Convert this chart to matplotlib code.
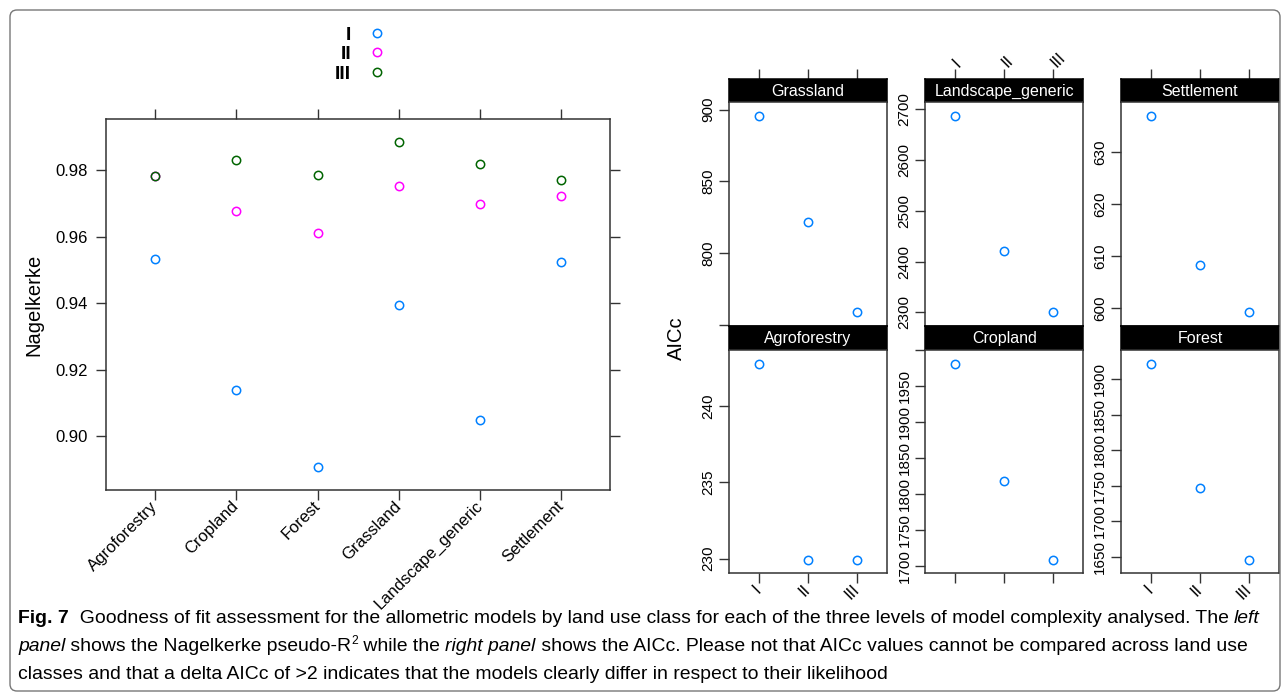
import matplotlib
matplotlib.use("Agg")
import matplotlib.pyplot as plt
from matplotlib.patches import FancyBboxPatch
from matplotlib.transforms import IdentityTransform

plt.rcParams['font.family'] = ['Liberation Sans', 'DejaVu Sans']

# ---- data ----
categories = ["Agroforestry", "Cropland", "Forest", "Grassland", "Landscape_generic", "Settlement"]
levels = ["I", "II", "III"]
level_colors = ["#0080ff", "#ff00ff", "#006400"]

nagel_I = [0.9533, 0.9138, 0.8907, 0.9395, 0.9048, 0.9523]
nagel_II = [0.9781, 0.9677, 0.9612, 0.9752, 0.9697, 0.9722]
nagel_III = [0.9783, 0.9829, 0.9785, 0.9885, 0.9819, 0.9769]
nagel_ticks = [0.90, 0.92, 0.94, 0.96, 0.98]

aicc_grassland = [895.6, 821.7, 758.9]
aicc_landscape = [2685.7, 2421.6, 2301.0]
aicc_settlement = [637.0, 608.4, 599.3]
aicc_agroforestry = [242.79, 229.93, 229.93]
aicc_cropland = [1981.4, 1818.4, 1708.7]
aicc_forest = [1922.0, 1746.8, 1645.8]

ticks_grassland = [750, 800, 850, 900]
labels_grassland = ["", "800", "850", "900"]
ticks_landscape = [2300, 2400, 2500, 2600, 2700]
labels_landscape = ["2300", "2400", "2500", "2600", "2700"]
ticks_settlement = [600, 610, 620, 630]
labels_settlement = ["600", "610", "620", "630"]
ticks_agroforestry = [230, 235, 240]
labels_agroforestry = ["230", "235", "240"]
ticks_cropland = [1700, 1750, 1800, 1850, 1900, 1950, 2000]
labels_cropland = ["1700", "1750", "1800", "1850", "1900", "1950", ""]
ticks_forest = [1650, 1700, 1750, 1800, 1850, 1900]
labels_forest = ["1650", "1700", "1750", "1800", "1850", "1900"]

W, H = 1285, 697
AX_COL = "#333333"


def px_box(x0, y0, x1, y1):
    return [x0 / W, 1 - y1 / H, (x1 - x0) / W, (y1 - y0) / H]


def padded(vals, frac=0.07):
    lo, hi = min(vals), max(vals)
    d = (hi - lo) * frac
    return lo - d, hi + d


def style_spines(ax, col=AX_COL, lw=1.1):
    for sp in ax.spines.values():
        sp.set_color(col)
        sp.set_linewidth(lw)


fig = plt.figure(figsize=(W / 100, H / 100), dpi=100)

# outer frame
frame = FancyBboxPatch((10, H - 691), 1270, 681, boxstyle="round,pad=0,rounding_size=7",
                       transform=IdentityTransform(), fill=False, ec="#777777", lw=1.0)
fig.add_artist(frame)

# ---- left panel: Nagelkerke ----
ax = fig.add_axes(px_box(106.3, 119, 610, 490))
xs = list(range(1, len(categories) + 1))
handles = []
for vals, col, lab in zip([nagel_I, nagel_II, nagel_III], level_colors, levels):
    h, = ax.plot(xs, vals, "o", ls="none", mfc="none", mec=col, ms=6, mew=1.1, label=lab)
    handles.append(h)
ax.set_xlim(0.4, len(categories) + 0.6)
ax.set_ylim(*padded(nagel_I + nagel_II + nagel_III))
ax.set_xticks(xs)
ax.set_xticklabels(categories, rotation=45, ha="right", va="center", rotation_mode="anchor")
ax.set_yticks(nagel_ticks)
ax.set_yticklabels([f"{t:.2f}" for t in nagel_ticks])
ax.tick_params(direction="out", length=7, width=1, top=True, right=True,
               labelsize=12, color=AX_COL)
ax.tick_params(axis="x", pad=3)
ax.tick_params(axis="y", pad=6)
style_spines(ax)
fig.text(34 / W, 1 - 305 / H, "Nagelkerke", rotation=90, fontsize=14.5, ha="center", va="center")

leg = fig.legend(handles, levels, loc="upper left", bbox_to_anchor=(335 / W, 1 - 26 / H),
                 markerfirst=False, frameon=False, fontsize=14, labelspacing=0.1,
                 handlelength=1.0, handletextpad=0.85, borderpad=0, borderaxespad=0)
for t in leg.get_texts():
    t.set_fontweight("bold")

# ---- right panels: AICc ----
col_x = [(729.3, 886.7), (925.4, 1083.0), (1121.1, 1279.0)]
row_y = [(79.0, 102.3, 325.7), (325.7, 350.0, 573.3)]

panels = [
    ("Grassland", aicc_grassland, ticks_grassland, labels_grassland, 0, 0),
    ("Landscape_generic", aicc_landscape, ticks_landscape, labels_landscape, 0, 1),
    ("Settlement", aicc_settlement, ticks_settlement, labels_settlement, 0, 2),
    ("Agroforestry", aicc_agroforestry, ticks_agroforestry, labels_agroforestry, 1, 0),
    ("Cropland", aicc_cropland, ticks_cropland, labels_cropland, 1, 1),
    ("Forest", aicc_forest, ticks_forest, labels_forest, 1, 2),
]

lx = [1, 2, 3]
for name, vals, yt, yl, r, c in panels:
    x0, x1 = col_x[c]
    s0, s1, p1 = row_y[r]

    # strip
    sax = fig.add_axes(px_box(x0, s0, x1, s1))
    sax.set_facecolor("black")
    sax.set_xlim(0.4, 3.6)
    sax.set_yticks([])
    sax.text(0.5, 0.47, name, color="white", ha="center", va="center", fontsize=11.5,
             transform=sax.transAxes)
    style_spines(sax, col="black")
    if r == 0:
        sax.xaxis.tick_top()
        sax.set_xticks(lx)
        if c == 1:
            sax.set_xticklabels(levels, rotation=45, ha="left", va="center",
                                rotation_mode="anchor")
        else:
            sax.set_xticklabels([])
        sax.tick_params(axis="x", direction="out", length=7, width=1, color=AX_COL,
                        labelsize=12, pad=3)
    else:
        sax.set_xticks([])

    # panel
    pax = fig.add_axes(px_box(x0, s1, x1, p1))
    pax.plot(lx, vals, "o", ls="none", mfc="none", mec=level_colors[0], ms=6, mew=1.1)
    pax.set_xlim(0.4, 3.6)
    pax.set_ylim(*padded(vals))
    pax.set_yticks(yt)
    pax.set_yticklabels(yl, rotation=90, va="center")
    pax.tick_params(axis="y", direction="out", length=7, width=1, color=AX_COL,
                    labelsize=11, pad=3)
    if r == 1:
        pax.set_xticks(lx)
        if c != 1:
            pax.set_xticklabels(levels, rotation=45, ha="right", va="center",
                                rotation_mode="anchor")
        else:
            pax.set_xticklabels([])
        pax.tick_params(axis="x", direction="out", length=7, width=1, color=AX_COL,
                        labelsize=12, pad=3)
    else:
        pax.set_xticks([])
    style_spines(pax)

fig.text(676 / W, 1 - 338 / H, "AICc", rotation=90, fontsize=14.5, ha="center", va="center")

# ---- caption ----
cap_family = ["Liberation Sans Narrow", "Liberation Sans"]
normal = dict(family=cap_family)
bold = dict(family=cap_family, weight="bold")
italic = dict(family=cap_family, style="italic")
sup = dict(family=cap_family, sup=True)

line1 = [("Fig. 7", bold),
         ("  Goodness of fit assessment for the allometric models by land use class for each of "
          "the three levels of model complexity analysed. The ", normal),
         ("left", italic)]
line2 = [("panel", italic), (" shows the Nagelkerke pseudo-R", normal), ("2", sup),
         (" while the ", normal), ("right panel", italic),
         (" shows the AICc. Please not that AICc values cannot be compared across land use", normal)]
line3 = [("classes and that a delta AICc of >2 indicates that the models clearly differ in "
          "respect to their likelihood", normal)]

renderer = fig.canvas.get_renderer()


def advance(s, st, size):
    kw = {k: v for k, v in st.items() if k != "sup"}
    sz = size * 0.62 if st.get("sup") else size
    t1 = fig.text(0, 0, s + "|", fontsize=sz, **kw)
    t2 = fig.text(0, 0, "|", fontsize=sz, **kw)
    w = t1.get_window_extent(renderer).width - t2.get_window_extent(renderer).width
    t1.remove()
    t2.remove()
    return w


def draw_line(runs, x, y, size):
    for s, st in runs:
        kw = {k: v for k, v in st.items() if k != "sup"}
        if st.get("sup"):
            fig.text(x / W, 1 - (y - 7) / H, s, fontsize=size * 0.62, va="baseline", **kw)
        else:
            fig.text(x / W, 1 - y / H, s, fontsize=size, va="baseline", **kw)
        x += advance(s, st, size)


base = 12.0
w1 = sum(advance(s, st, base) for s, st in line1)
cap_size = base * (1262 - 18) / w1

draw_line(line1, 18, 623, cap_size)
draw_line(line2, 18, 651, cap_size)
draw_line(line3, 18, 679, cap_size)

fig.savefig("out.png", dpi=100)
